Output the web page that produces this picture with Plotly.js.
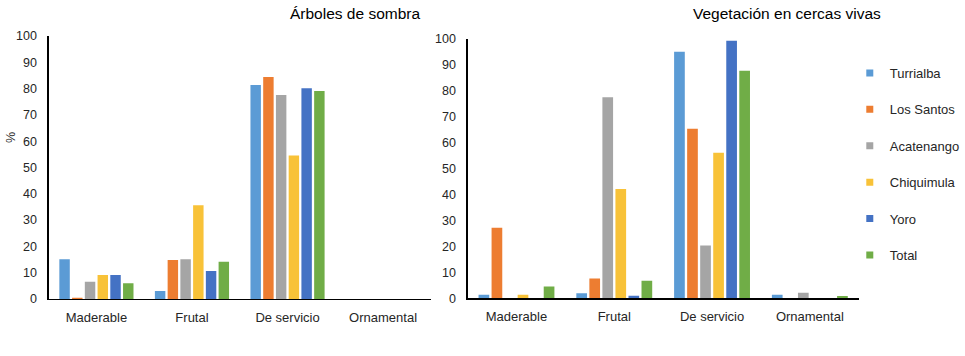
<!DOCTYPE html>
<html>
<head>
<meta charset="utf-8">
<script src="https://cdn.plot.ly/plotly-3.0.1.min.js"></script>
<style>html,body{margin:0;padding:0;background:#fff;}#chart{width:965px;height:356px;}</style>
</head>
<body>
<div id="chart"></div>
<script>
const categories = ['Maderable', 'Frutal', 'De servicio', 'Ornamental'];
const seriesNames = ['Turrialba', 'Los Santos', 'Acatenango', 'Chiquimula', 'Yoro', 'Total'];
const seriesColors = ['#5B9BD5', '#ED7D31', '#A5A5A5', '#F8C238', '#4472C4', '#70AD47'];

// Árboles de sombra (%)
const sombraTurrialba  = [15.1, 3.0, 81.4, 0];
const sombraLosSantos  = [0.5, 14.8, 84.4, 0];
const sombraAcatenango = [6.6, 15.1, 77.6, 0];
const sombraChiquimula = [9.1, 35.6, 54.6, 0];
const sombraYoro       = [9.1, 10.6, 80.1, 0];
const sombraTotal      = [6.0, 14.2, 79.1, 0];

// Vegetación en cercas vivas (%)
const cercasTurrialba  = [1.4, 1.9, 94.9, 1.4];
const cercasLosSantos  = [27.2, 7.6, 65.3, 0];
const cercasAcatenango = [0, 77.4, 20.3, 2.1];
const cercasChiquimula = [1.4, 42.1, 56.0, 0];
const cercasYoro       = [0, 1.0, 99.1, 0];
const cercasTotal      = [4.5, 6.8, 87.6, 0.9];

const yTicks = [0, 10, 20, 30, 40, 50, 60, 70, 80, 90, 100];

const sombra = [sombraTurrialba, sombraLosSantos, sombraAcatenango, sombraChiquimula, sombraYoro, sombraTotal];
const cercas = [cercasTurrialba, cercasLosSantos, cercasAcatenango, cercasChiquimula, cercasYoro, cercasTotal];

const FONT = 'Liberation Sans, Arial, sans-serif';
const traces = [];
seriesNames.forEach((name, i) => {
  traces.push({type: 'bar', name: name, x: categories, y: sombra[i], xaxis: 'x', yaxis: 'y',
    marker: {color: seriesColors[i]}, showlegend: false, hoverinfo: 'y'});
  traces.push({type: 'bar', name: name, x: categories, y: cercas[i], xaxis: 'x2', yaxis: 'y2',
    marker: {color: seriesColors[i]}, showlegend: false, hoverinfo: 'y'});
});
// legend entries
seriesNames.forEach((name, i) => {
  traces.push({type: 'scatter', mode: 'markers', name: name, x: [null], y: [null],
    xaxis: 'x2', yaxis: 'y2', legendgroup: 'g' + i,
    marker: {symbol: 'square', size: 7, color: seriesColors[i]}, showlegend: true});
});

const xCommon = {type: 'category', showline: true, linecolor: '#000', linewidth: 1.2,
  ticks: '', showgrid: false, zeroline: false, fixedrange: true,
  tickfont: {family: FONT, size: 13, color: '#262626'}, ticklabelstandoff: 6};
const yCommon = {range: [0, 100], tickvals: yTicks, showline: true, linecolor: '#000', linewidth: 1.2,
  ticks: '', showgrid: false, zeroline: false, fixedrange: true,
  tickfont: {family: FONT, size: 12.5, color: '#262626'}, ticklabelstandoff: 8};

const layout = {
  width: 965, height: 356,
  margin: {l: 0, r: 0, t: 0, b: 0},
  paper_bgcolor: '#fff', plot_bgcolor: '#fff',
  barmode: 'group', bargap: 0.2, bargroupgap: 0.18,
  font: {family: FONT, color: '#262626'},
  xaxis: Object.assign({}, xCommon, {domain: [49 / 965, 434 / 965], anchor: 'y'}),
  yaxis: Object.assign({}, yCommon, {domain: [57 / 356, 320 / 356], anchor: 'x'}),
  xaxis2: Object.assign({}, xCommon, {domain: [471 / 965, 865 / 965], anchor: 'y2'}),
  yaxis2: Object.assign({}, yCommon, {domain: [57.7 / 356, 317.5 / 356], anchor: 'x2'}),
  showlegend: true,
  legend: {x: 856 / 965, xanchor: 'left', y: 1 - 58 / 356, yanchor: 'top',
    font: {family: FONT, size: 13, color: '#262626'}, traceorder: 'grouped',
    tracegroupgap: 16.5, itemwidth: 30, bgcolor: 'rgba(0,0,0,0)'},
  annotations: [
    {text: 'Árboles de sombra', xref: 'paper', yref: 'paper', x: 358 / 965, y: 1 - 13 / 356,
      xanchor: 'center', yanchor: 'middle', showarrow: false, font: {family: FONT, size: 15.5, color: '#000'}},
    {text: 'Vegetación en cercas vivas', xref: 'paper', yref: 'paper', x: 793 / 965, y: 1 - 13 / 356,
      xanchor: 'center', yanchor: 'middle', showarrow: false, font: {family: FONT, size: 15.5, color: '#000'}},
    {text: '%', xref: 'paper', yref: 'paper', x: 11 / 965, y: 1 - 137 / 356, textangle: -90,
      xanchor: 'center', yanchor: 'middle', showarrow: false, font: {family: FONT, size: 12.5, color: '#262626'}}
  ]
};

Plotly.newPlot('chart', traces, layout, {displayModeBar: false, staticPlot: true});
</script>
</body>
</html>
